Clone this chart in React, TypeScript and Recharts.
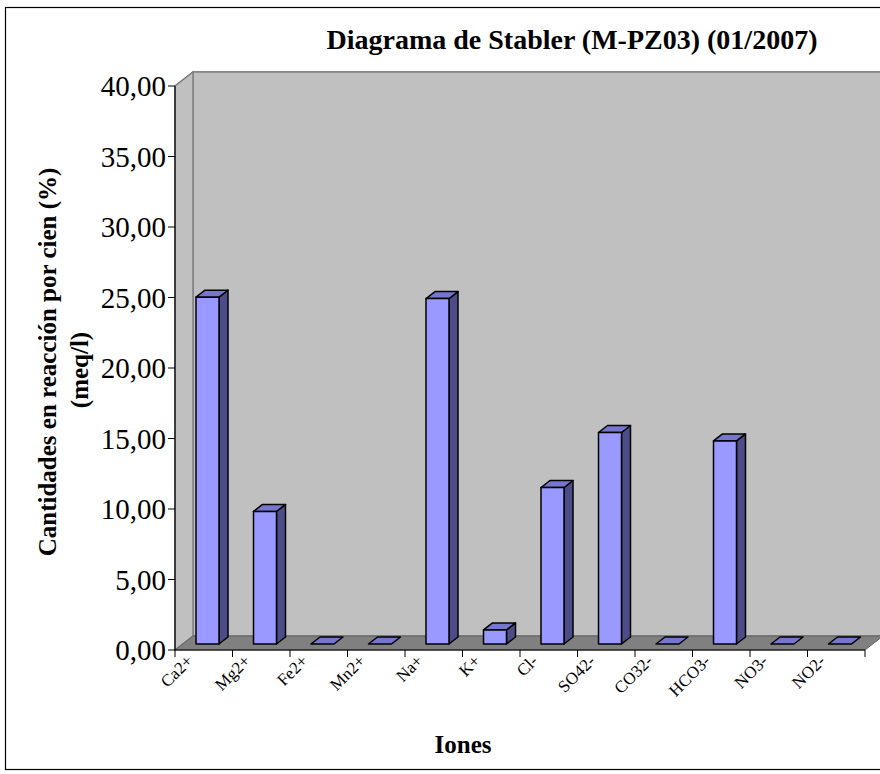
import React from "react";
import { BarChart, Bar, XAxis, YAxis, CartesianGrid } from "recharts";

const iones = ["Ca2+", "Mg2+", "Fe2+", "Mn2+", "Na+", "K+", "Cl-", "SO42-", "CO32-", "HCO3-", "NO3-", "NO2-"];
const porcentaje = [24.6, 9.4, 0, 0, 24.5, 1.0, 11.1, 15.0, 0, 14.4, 0, 0];
const yTicks = [0, 5, 10, 15, 20, 25, 30, 35, 40];

const data = iones.map((ion, i) => ({ ion, valor: porcentaje[i] }));

// layout
const W = 880;
const H = 774;
const LEFT = 175;
const TOP = 86;
const RIGHT = 865;
const BOTTOM = 650;
const DX = 18; // wall depth
const DY = -14;
const BAND = (RIGHT - LEFT) / iones.length;
const FONT = "'Liberation Serif', 'Times New Roman', serif";

const FRONT = "#9999ff";
const TOPFACE = "#7676cc";
const SIDE = "#4c4c88";

function Box3D(props: any) {
  const { x, y, width, height } = props;
  if (x == null || y == null) return null;
  const l = x + 4;
  const r = l + width;
  const bottom = y + (height || 0) - 6;
  const top = y - 6;
  const bx = 9;
  const by = -7;
  const topFace = `${l},${top} ${r},${top} ${r + bx},${top + by} ${l + bx},${top + by}`;
  if (bottom - top < 0.5) {
    return <polygon points={topFace} fill={TOPFACE} stroke="#000" strokeWidth={1.5} strokeLinejoin="round" />;
  }
  return (
    <g stroke="#000" strokeWidth={1.5} strokeLinejoin="round">
      <polygon points={`${r},${top} ${r + bx},${top + by} ${r + bx},${bottom + by} ${r},${bottom}`} fill={SIDE} />
      <polygon points={topFace} fill={TOPFACE} />
      <rect x={l} y={top} width={width} height={bottom - top} fill={FRONT} />
    </g>
  );
}

function Walls() {
  return (
    <g>
      <polygon
        points={`${LEFT + DX},${TOP + DY} ${RIGHT + DX},${TOP + DY} ${RIGHT + DX},${BOTTOM + DY} ${LEFT + DX},${BOTTOM + DY}`}
        fill="#c0c0c0"
        stroke="#808080"
        strokeWidth={1.5}
      />
      <polygon
        points={`${LEFT},${TOP} ${LEFT + DX},${TOP + DY} ${LEFT + DX},${BOTTOM + DY} ${LEFT},${BOTTOM}`}
        fill="#c0c0c0"
        stroke="#808080"
        strokeWidth={1.5}
      />
      <polygon
        points={`${LEFT},${BOTTOM} ${LEFT + DX},${BOTTOM + DY} ${RIGHT + DX},${BOTTOM + DY} ${RIGHT},${BOTTOM}`}
        fill="#808080"
        stroke="#606060"
        strokeWidth={1}
      />
    </g>
  );
}

function GridLine(props: any) {
  const { x1, y1, x2, y2 } = props;
  return (
    <g stroke="#333" strokeWidth={1.2}>
      <line x1={x1 + DX} y1={y1 + DY} x2={x2 + DX + 20} y2={y2 + DY} />
      <line x1={x1} y1={y1} x2={x1 + DX} y2={y1 + DY} />
    </g>
  );
}

function XTick(props: any) {
  const { x, payload, index } = props;
  const tx = x - 10;
  const ty = BOTTOM + 12;
  return (
    <g>
      <line x1={x - BAND / 2} y1={BOTTOM} x2={x - BAND / 2} y2={BOTTOM + 7} stroke="#000" />
      {index === iones.length - 1 && (
        <line x1={x + BAND / 2} y1={BOTTOM} x2={x + BAND / 2} y2={BOTTOM + 7} stroke="#000" />
      )}
      <text
        x={tx}
        y={ty}
        transform={`rotate(-45, ${tx}, ${ty})`}
        textAnchor="end"
        fontFamily={FONT}
        fontSize={17}
        fill="#000"
      >
        {payload.value}
      </text>
    </g>
  );
}

export default function App() {
  return (
    <div style={{ position: "absolute", left: 0, top: 0, width: W, height: H, background: "#fff" }}>
      <BarChart
        width={W}
        height={H}
        data={data}
        margin={{ top: TOP, right: W - RIGHT, bottom: 0, left: 0 }}
        barSize={23}
      >
        <Walls />
        <CartesianGrid vertical={false} horizontal={(p: any) => <GridLine key={p.key ?? p.index} {...p} />} />
        <XAxis
          dataKey="ion"
          height={H - BOTTOM}
          tick={<XTick />}
          tickLine={false}
          axisLine={{ stroke: "#000", strokeWidth: 1.2 }}
          interval={0}
        />
        <YAxis
          width={LEFT}
          domain={[0, 40]}
          ticks={yTicks}
          interval={0}
          tickFormatter={(v: number) => v.toFixed(2).replace(".", ",")}
          tick={{ fontSize: 29, fill: "#000", fontFamily: FONT }}
          tickSize={7}
          tickMargin={2}
          tickLine={{ stroke: "#000" }}
          axisLine={{ stroke: "#000", strokeWidth: 1.2 }}
        />
        <Bar dataKey="valor" shape={<Box3D />} isAnimationActive={false} />
        <text x={572} y={49} textAnchor="middle" fontFamily={FONT} fontWeight="bold" fontSize={28} fill="#000">
          Diagrama de Stabler (M-PZ03) (01/2007)
        </text>
        <text
          x={47}
          y={362}
          transform="rotate(-90, 47, 362)"
          textAnchor="middle"
          dominantBaseline="central"
          fontFamily={FONT}
          fontWeight="bold"
          fontSize={25}
          fill="#000"
        >
          Cantidades en reacción por cien (%)
        </text>
        <text
          x={79}
          y={370}
          transform="rotate(-90, 79, 370)"
          textAnchor="middle"
          dominantBaseline="central"
          fontFamily={FONT}
          fontWeight="bold"
          fontSize={25}
          fill="#000"
        >
          (meq/l)
        </text>
        <text x={463} y={753} textAnchor="middle" fontFamily={FONT} fontWeight="bold" fontSize={25} fill="#000">
          Iones
        </text>
        <rect x={5.5} y={7.5} width={900} height={762} fill="none" stroke="#000" strokeWidth={1.2} />
      </BarChart>
    </div>
  );
}
